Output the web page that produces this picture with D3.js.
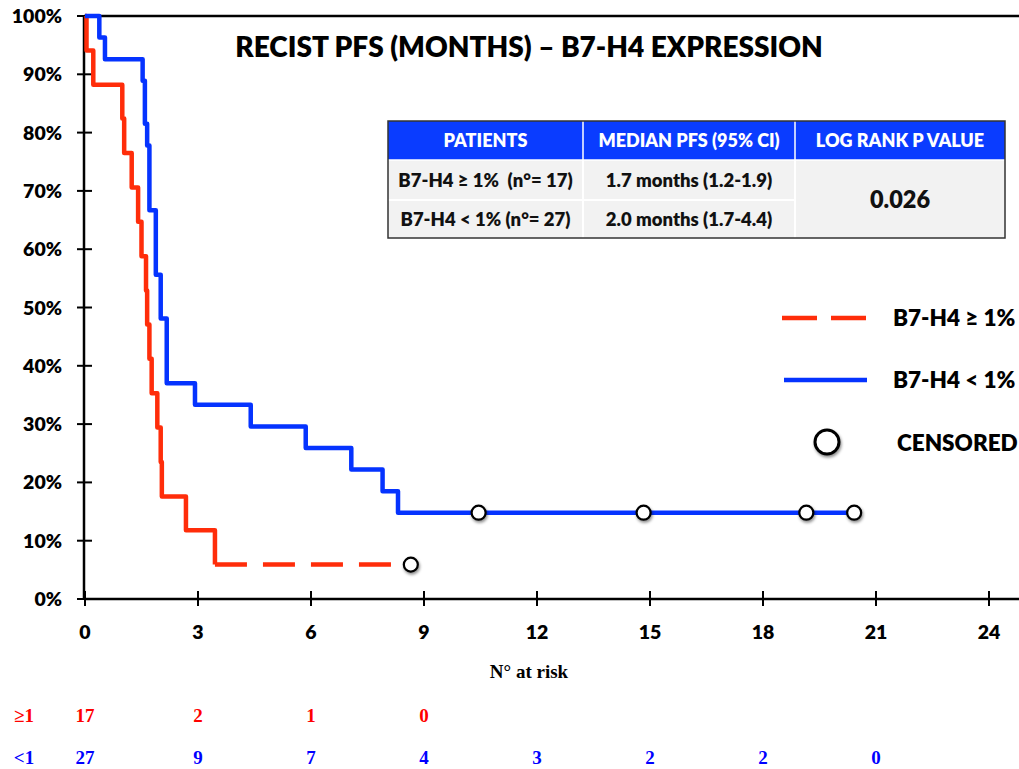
<!DOCTYPE html>
<html>
<head>
<meta charset="utf-8">
<script src="https://cdn.jsdelivr.net/npm/d3@7"></script>
<style>
  body { margin: 0; background: #fff; }
  svg { display: block; }
  .lbl { font-family: Lato, "Open Sans", sans-serif; font-weight: 800; white-space: pre; }
  .risk { font-family: "Liberation Serif", "Times New Roman", serif; font-weight: 700; }
</style>
</head>
<body>
<svg id="chart" width="1019" height="769"></svg>
<script>
// Data
const xTicks = [0, 3, 6, 9, 12, 15, 18, 21, 24]
const yTicks = [0, 10, 20, 30, 40, 50, 60, 70, 80, 90, 100]

// B7-H4 >= 1% (n = 17) event times (months) and survival (%)
const redTimes = [0.04, 0.22, 0.99, 1.04, 1.24, 1.41, 1.50, 1.62, 1.65, 1.71, 1.77, 1.92, 2.01, 2.04, 2.68, 3.45]
const redSurv = [94.1, 88.2, 82.4, 76.5, 70.6, 64.7, 58.8, 52.9, 47.1, 41.2, 35.3, 29.4, 23.5, 17.6, 11.8, 5.9]
const redTailEnd = 8.18
const redCensor = [8.65]

// B7-H4 < 1% (n = 27)
const blueTimes = [0.38, 0.53, 1.53, 1.59, 1.59, 1.65, 1.71, 1.71, 1.71, 1.88, 1.88, 1.88, 2.01, 2.01, 2.17, 2.17, 2.17, 2.92, 4.40, 5.86, 7.07, 7.90, 8.31]
const blueSurv = [96.3, 92.6, 88.9, 85.2, 81.5, 77.8, 74.1, 70.4, 66.7, 63.0, 59.3, 55.6, 51.9, 48.1, 44.4, 40.7, 37.0, 33.3, 29.6, 25.9, 22.2, 18.5, 14.8]
const blueCensor = [10.45, 14.83, 19.15, 20.42]

// Numbers at risk
const riskRed = [17, 2, 1, 0]
const riskBlue = [27, 9, 7, 4, 3, 2, 2, 0]

// Table
const tableHeaders = ['PATIENTS', 'MEDIAN PFS (95% CI)', 'LOG RANK P VALUE']
const tableRows = [
    ['B7-H4 \u2265 1%  (n\u00b0= 17)', '1.7 months (1.2-1.9)'],
    ['B7-H4 < 1% (n\u00b0= 27)', '2.0 months (1.7-4.4)']
]
const pValue = '0.026'

const colorRed = '#ff2d0a'
const colorBlue = '#0533ff'

const svg = d3.select('#chart')

const x = d3.scaleLinear().domain([0, 24]).range([85, 989])
const y = d3.scaleLinear().domain([0, 100]).range([599, 16])

// drop shadow for the censor circles
const defs = svg.append('defs')
const filt = defs.append('filter').attr('id', 'shadow')
    .attr('x', '-50%').attr('y', '-50%').attr('width', '200%').attr('height', '200%')
filt.append('feDropShadow')
    .attr('dx', 1).attr('dy', 2).attr('stdDeviation', 1.5)
    .attr('flood-color', '#000').attr('flood-opacity', 0.45)

// Axes
svg.append('line').attr('x1', x(0) - 1).attr('x2', 1019).attr('y1', y(0)).attr('y2', y(0))
    .attr('stroke', '#000').attr('stroke-width', 2.5)
svg.append('line').attr('x1', x(0) - 1).attr('x2', 1019).attr('y1', y(100)).attr('y2', y(100))
    .attr('stroke', '#000').attr('stroke-width', 2.5)
svg.append('line').attr('x1', x(0) - 1).attr('x2', x(0) - 1).attr('y1', y(100)).attr('y2', y(0) + 1)
    .attr('stroke', '#000').attr('stroke-width', 2.5)

svg.selectAll('.ytick').data(yTicks).join('line')
    .attr('class', 'ytick')
    .attr('x1', x(0) - 8).attr('x2', x(0) + 7)
    .attr('y1', d => y(d)).attr('y2', d => y(d))
    .attr('stroke', '#000').attr('stroke-width', 2)

svg.selectAll('.ylab').data(yTicks).join('text')
    .attr('class', 'ylab lbl')
    .attr('x', 62).attr('y', d => y(d) + 7)
    .attr('text-anchor', 'end')
    .attr('font-size', 19.5)
    .text(d => d + '%')

svg.selectAll('.xtick').data(xTicks).join('line')
    .attr('class', 'xtick')
    .attr('x1', d => x(d)).attr('x2', d => x(d))
    .attr('y1', y(0) - 8).attr('y2', y(0) + 7)
    .attr('stroke', '#000').attr('stroke-width', 2)

svg.selectAll('.xlab').data(xTicks).join('text')
    .attr('class', 'xlab lbl')
    .attr('x', d => x(d)).attr('y', 639)
    .attr('text-anchor', 'middle')
    .attr('font-size', 19.5)
    .text(d => d)

// Title
svg.append('text').attr('class', 'lbl')
    .attr('x', 529).attr('y', 57)
    .attr('text-anchor', 'middle')
    .attr('font-size', 28)
    .text('RECIST PFS (MONTHS) \u2013 B7-H4 EXPRESSION')

// KM curves
const stepLine = d3.line()
    .x(d => x(d[0]))
    .y(d => y(d[1]))
    .curve(d3.curveStepAfter)

const redPts = [[0, 100]].concat(redTimes.map((t, i) => [t, redSurv[i]]))
const redLast = redPts[redPts.length - 1]

svg.append('path')
    .attr('d', stepLine(redPts))
    .attr('fill', 'none').attr('stroke', colorRed).attr('stroke-width', 4.5)
    .attr('stroke-linejoin', 'round')

svg.append('path')
    .attr('d', stepLine([redLast, [redTailEnd, redLast[1]]]))
    .attr('fill', 'none').attr('stroke', colorRed).attr('stroke-width', 4.5)
    .attr('stroke-dasharray', '32,16')

const blueEnd = blueCensor[blueCensor.length - 1]
const bluePts = [[0, 100]].concat(blueTimes.map((t, i) => [t, blueSurv[i]]))
bluePts.push([blueEnd, blueSurv[blueSurv.length - 1]])

svg.append('path')
    .attr('d', stepLine(bluePts))
    .attr('fill', 'none').attr('stroke', colorBlue).attr('stroke-width', 4.5)
    .attr('stroke-linejoin', 'round')

// Censored marks
const censorPts = redCensor.map(t => [t, redLast[1]])
    .concat(blueCensor.map(t => [t, blueSurv[blueSurv.length - 1]]))

svg.selectAll('.censor').data(censorPts).join('circle')
    .attr('class', 'censor')
    .attr('cx', d => x(d[0])).attr('cy', d => y(d[1]))
    .attr('r', 7)
    .attr('fill', '#fff').attr('stroke', '#000').attr('stroke-width', 2.2)
    .attr('filter', 'url(#shadow)')

// Table
const colX = [388, 583, 795, 1005]
const rowY = [121, 160, 200, 238]
const tbl = svg.append('g')

tbl.append('rect').attr('x', colX[0]).attr('y', rowY[1])
    .attr('width', colX[3] - colX[0]).attr('height', rowY[3] - rowY[1])
    .attr('fill', '#f2f2f2')
tbl.append('rect').attr('x', colX[0]).attr('y', rowY[0])
    .attr('width', colX[3] - colX[0]).attr('height', rowY[1] - rowY[0])
    .attr('fill', '#0a3cff')
// inner dividers
tbl.selectAll('.hdiv').data([1, 2]).join('line')
    .attr('x1', d => colX[d]).attr('x2', d => colX[d])
    .attr('y1', rowY[0]).attr('y2', rowY[1])
    .attr('stroke', '#fff').attr('stroke-width', 1.5)
tbl.selectAll('.bdiv').data([1, 2]).join('line')
    .attr('x1', d => colX[d]).attr('x2', d => colX[d])
    .attr('y1', rowY[1]).attr('y2', rowY[3])
    .attr('stroke', '#fff').attr('stroke-width', 2)
tbl.append('line').attr('x1', colX[0]).attr('x2', colX[2])
    .attr('y1', rowY[2]).attr('y2', rowY[2])
    .attr('stroke', '#fff').attr('stroke-width', 2)
tbl.append('line').attr('x1', colX[0]).attr('x2', colX[3])
    .attr('y1', rowY[1]).attr('y2', rowY[1])
    .attr('stroke', '#fff').attr('stroke-width', 1.5)
tbl.append('rect').attr('x', colX[0]).attr('y', rowY[0])
    .attr('width', colX[3] - colX[0]).attr('height', rowY[3] - rowY[0])
    .attr('fill', 'none').attr('stroke', '#333').attr('stroke-width', 1.5)

tbl.selectAll('.th').data(tableHeaders).join('text')
    .attr('class', 'lbl')
    .attr('x', (d, i) => (colX[i] + colX[i + 1]) / 2)
    .attr('y', (rowY[0] + rowY[1]) / 2 + 6)
    .attr('text-anchor', 'middle')
    .attr('font-size', 18)
    .attr('fill', '#fff')
    .text(d => d)

tableRows.forEach((row, r) => {
    row.forEach((cell, c) => {
        tbl.append('text').attr('class', 'lbl')
            .attr('x', (colX[c] + colX[c + 1]) / 2)
            .attr('y', (rowY[r + 1] + rowY[r + 2]) / 2 + 6.5)
            .attr('text-anchor', 'middle')
            .attr('font-size', 18.5)
            .attr('fill', '#111')
            .text(cell)
    })
})
tbl.append('text').attr('class', 'lbl')
    .attr('x', (colX[2] + colX[3]) / 2).attr('y', (rowY[1] + rowY[3]) / 2 + 9)
    .attr('text-anchor', 'middle')
    .attr('font-size', 23.5)
    .attr('fill', '#111')
    .text(pValue)

// Legend
const lg = svg.append('g')
lg.append('line').attr('x1', 782).attr('x2', 866).attr('y1', 318).attr('y2', 318)
    .attr('stroke', colorRed).attr('stroke-width', 4.5).attr('stroke-dasharray', '35,14')
lg.append('text').attr('class', 'lbl').attr('x', 893).attr('y', 326)
    .attr('font-size', 22.5).text('B7-H4 \u2265 1%')
lg.append('line').attr('x1', 784).attr('x2', 867).attr('y1', 380).attr('y2', 380)
    .attr('stroke', colorBlue).attr('stroke-width', 4.5)
lg.append('text').attr('class', 'lbl').attr('x', 893).attr('y', 388)
    .attr('font-size', 22.5).text('B7-H4 < 1%')
lg.append('circle').attr('cx', 827).attr('cy', 442).attr('r', 12)
    .attr('fill', '#fff').attr('stroke', '#000').attr('stroke-width', 3)
    .attr('filter', 'url(#shadow)')
lg.append('text').attr('class', 'lbl').attr('x', 897).attr('y', 451)
    .attr('font-size', 22.5).text('CENSORED')

// Numbers at risk
svg.append('text').attr('class', 'risk')
    .attr('x', 529).attr('y', 678)
    .attr('text-anchor', 'middle').attr('font-size', 19)
    .text('N\u00b0 at risk')

svg.append('text').attr('class', 'risk').attr('x', 24).attr('y', 722)
    .attr('text-anchor', 'middle').attr('font-size', 19).attr('fill', '#ff0000')
    .text('\u2265' + '1')
svg.append('text').attr('class', 'risk').attr('x', 24).attr('y', 764)
    .attr('text-anchor', 'middle').attr('font-size', 19).attr('fill', '#0000ff')
    .text('<1')

svg.selectAll('.riskRed').data(riskRed).join('text')
    .attr('class', 'risk')
    .attr('x', (d, i) => x(xTicks[i])).attr('y', 722)
    .attr('text-anchor', 'middle').attr('font-size', 19).attr('fill', '#ff0000')
    .text(d => d)

svg.selectAll('.riskBlue').data(riskBlue).join('text')
    .attr('class', 'risk')
    .attr('x', (d, i) => x(xTicks[i])).attr('y', 764)
    .attr('text-anchor', 'middle').attr('font-size', 19).attr('fill', '#0000ff')
    .text(d => d)
</script>
</body>
</html>
